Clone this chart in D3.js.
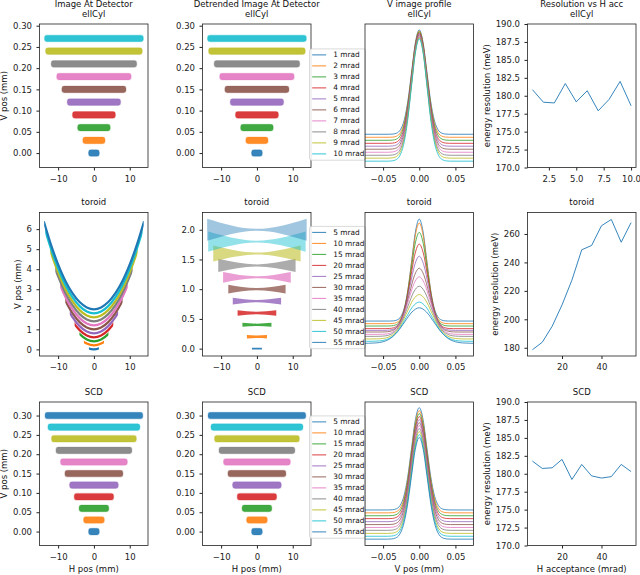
<!DOCTYPE html>
<html>
<head>
<meta charset="utf-8">
<script src="https://cdn.jsdelivr.net/npm/d3@7"></script>
<style>
  body { margin: 0; background: #fff; }
  svg { font-family: 'DejaVu Sans', sans-serif; }
</style>
</head>
<body>
<div id="chart"></div>
<script>
const palette = ['#1f77b4', '#ff7f0e', '#2ca02c', '#d62728', '#9467bd', '#8c564b', '#e377c2', '#7f7f7f', '#bcbd22', '#17becf'];

// ---- ellCyl ----
const ellCylAcc = [1, 2, 3, 4, 5, 6, 7, 8, 9, 10];
const ellCylV = [0, 0.03, 0.06, 0.09, 0.12, 0.15, 0.18, 0.21, 0.24, 0.27];
const ellCylHalfWidth = [1.5, 3.1, 4.55, 6.0, 7.45, 8.95, 10.4, 11.95, 13.5, 13.8];
const ellCylProfileBase = [0.205, 0.182, 0.159, 0.136, 0.114, 0.091, 0.068, 0.045, 0.023, 0];
const ellCylProfilePeak = [1, 0.992, 0.985, 0.977, 0.97, 0.962, 0.955, 0.947, 0.939, 0.932];
const ellCylProfileSigma = [0.0104, 0.0104, 0.0105, 0.0105, 0.0106, 0.0106, 0.0107, 0.0107, 0.0108, 0.0108];
const ellCylResolution = [180.85, 179.1, 179.0, 181.7, 179.15, 180.7, 177.9, 179.5, 182.0, 178.6];

// ---- toroid ----
const toroidAcc = [5, 10, 15, 20, 25, 30, 35, 40, 45, 50, 55];
const toroidV = [0, 0.2, 0.4, 0.6, 0.8, 1.0, 1.2, 1.4, 1.6, 1.8, 2.0];
const toroidHalfWidth = [1.4, 2.8, 4.05, 5.4, 6.75, 8.0, 9.45, 10.8, 12.2, 13.6, 13.9];
const toroidEdgeSpread = [0.014, 0.028, 0.034, 0.045, 0.056, 0.073, 0.09, 0.11, 0.135, 0.17, 0.185];
const toroidCenterSpread = [0.014, 0.022, 0.02, 0.02, 0.018, 0.018, 0.018, 0.017, 0.016, 0.016, 0.015];
// V offset of the raw toroid image (the trend removed by detrending), read along H
const toroidTrendH = [-14, -12, -10, -8, -6, -4, -2, 0, 2, 4, 6, 8, 10, 12, 14];
const toroidTrendV = [4.39, 3.23, 2.24, 1.43, 0.81, 0.36, 0.09, 0, 0.09, 0.36, 0.81, 1.43, 2.24, 3.23, 4.39];
const toroidProfileBase = [0.179, 0.158, 0.139, 0.118, 0.104, 0.091, 0.072, 0.056, 0.035, 0.016, 0];
const toroidProfilePeak = [1, 0.968, 0.893, 0.799, 0.701, 0.604, 0.535, 0.46, 0.393, 0.332, 0.286];
const toroidProfileSigma = [0.0102, 0.0105, 0.011, 0.0118, 0.0126, 0.0135, 0.0145, 0.0155, 0.0168, 0.0182, 0.02];
const toroidResolution = [178.6, 183.9, 195.1, 210.1, 227.5, 248.9, 251.9, 265.8, 270.2, 254.2, 268.0];

// ---- SCD ----
const scdAcc = [5, 10, 15, 20, 25, 30, 35, 40, 45, 50, 55];
const scdV = [0, 0.03, 0.06, 0.09, 0.12, 0.15, 0.18, 0.21, 0.24, 0.27, 0.30];
const scdHalfWidth = [1.5, 2.9, 4.15, 5.5, 6.8, 8.1, 9.35, 10.6, 11.85, 12.85, 13.65];
const scdProfileBase = [0.222, 0.2, 0.178, 0.156, 0.133, 0.111, 0.089, 0.067, 0.044, 0.022, 0];
const scdProfilePeak = [1, 0.977, 0.955, 0.932, 0.909, 0.886, 0.864, 0.841, 0.818, 0.795, 0.773];
const scdProfileSigma = [0.0106, 0.0106, 0.0107, 0.0107, 0.0108, 0.0108, 0.0108, 0.0109, 0.0109, 0.011, 0.011];
const scdResolution = [181.76, 180.74, 180.83, 182.0, 179.2, 181.3, 179.7, 179.4, 179.6, 181.3, 180.3];

// normalised beam profile (in units of sigma), shared by the V profile panels
const profileShapeU = [-10, -4, -3.5, -3, -2.5, -2, -1.5, -1, -0.5, 0, 0.5, 1, 1.5, 2, 2.5, 3, 3.5, 4, 10];
const profileShapeV = [0, 0.0003, 0.0022, 0.0111, 0.0439, 0.1353, 0.3247, 0.6065, 0.8825, 1, 0.8825, 0.6065, 0.3247, 0.1353, 0.0439, 0.0111, 0.0022, 0.0003, 0];

// ---- ticks ----
const hPosTicks = [-10, 0, 10];
const vProfileTicks = [-0.05, 0, 0.05];
const smallVTicks = [0, 0.05, 0.1, 0.15, 0.2, 0.25, 0.3];
const toroidRawTicks = [0, 1, 2, 3, 4, 5, 6];
const toroidDetrendTicks = [0, 0.5, 1, 1.5, 2];
const ellCylAccTicks = [2.5, 5, 7.5, 10];
const mradTicks = [20, 40];
const resTicks = [170, 172.5, 175, 177.5, 180, 182.5, 185, 187.5, 190];
const toroidResTicks = [180, 200, 220, 240, 260];

const COLS = [39.5, 202.5, 365, 527.5];
const ROWS = [24, 212.5, 402];
const PW = 108.5;
const PH = 143.5;
const FONT = 8.5;

const svg = d3.select('#chart').append('svg').attr('width', 640).attr('height', 575);

let clipCount = 0;
const makeClip = (x, y, w, h) => {
  const id = `clip-${clipCount++}`;
  svg.append('clipPath').attr('id', id)
    .append('rect').attr('x', x).attr('y', y).attr('width', w).attr('height', h);
  return `url(#${id})`;
};

const makePanel = (row, col, xDomain, yDomain) => {
  const left = COLS[col];
  const top = ROWS[row];
  const x = d3.scaleLinear().domain(xDomain).range([left, left + PW]);
  const y = d3.scaleLinear().domain(yDomain).range([top + PH, top]);
  const plot = svg.append('g').attr('clip-path', makeClip(left, top, PW, PH));
  return { x, y, plot, left, top };
};

const drawFrame = (p, xTicks, xFmt, yTicks, yFmt) => {
  const gx = svg.append('g')
    .attr('transform', `translate(0,${p.top + PH})`)
    .call(d3.axisBottom(p.x).tickValues(xTicks).tickFormat(d3.format(xFmt)).tickSize(3).tickPadding(5));
  gx.select('.domain').remove();
  let labelLeft = p.left;
  if (yTicks) {
    const gy = svg.append('g')
      .attr('transform', `translate(${p.left},0)`)
      .call(d3.axisLeft(p.y).tickValues(yTicks).tickFormat(d3.format(yFmt)).tickSize(3).tickPadding(4.5));
    gy.select('.domain').remove();
    gy.attr('font-size', FONT).attr('font-family', null).attr('color', '#222');
    const widest = d3.max(gy.selectAll('text').nodes(), (n) => n.getComputedTextLength());
    labelLeft = p.left - 7.5 - widest;
  }
  gx.attr('font-size', FONT).attr('font-family', null).attr('color', '#222');
  svg.append('rect')
    .attr('x', p.left).attr('y', p.top).attr('width', PW).attr('height', PH)
    .attr('fill', 'none').attr('stroke', '#222').attr('stroke-width', 0.8);
  return labelLeft;
};

const drawTitle = (p, lines) => {
  lines.forEach((line, i) => {
    svg.append('text')
      .attr('x', p.left + PW / 2)
      .attr('y', p.top - 7.5 - (lines.length - 1 - i) * 9.8)
      .attr('text-anchor', 'middle')
      .attr('font-size', FONT)
      .attr('fill', '#111')
      .text(line);
  });
};

const drawYLabel = (p, labelLeft, label) => {
  svg.append('text')
    .attr('transform', `translate(${labelLeft - 6},${p.top + PH / 2}) rotate(-90)`)
    .attr('text-anchor', 'middle')
    .attr('font-size', FONT)
    .attr('fill', '#111')
    .text(label);
};

const drawXLabel = (p, label) => {
  svg.append('text')
    .attr('x', p.left + PW / 2)
    .attr('y', p.top + PH + 26.5)
    .attr('text-anchor', 'middle')
    .attr('font-size', FONT)
    .attr('fill', '#111')
    .text(label);
};

// flat beam image: one rounded band per acceptance
const drawBands = (p, vs, halfWidths) => {
  p.plot.selectAll('rect.band')
    .data(vs)
    .join('rect')
    .attr('class', 'band')
    .attr('x', (_, i) => p.x(-halfWidths[i]))
    .attr('width', (_, i) => p.x(halfWidths[i]) - p.x(-halfWidths[i]))
    .attr('y', (v) => p.y(v) - 3.3)
    .attr('height', 6.6)
    .attr('rx', 2.4)
    .attr('fill', (_, i) => palette[i % 10])
    .attr('fill-opacity', 0.9)
    .attr('stroke', (_, i) => palette[i % 10])
    .attr('stroke-opacity', 0.25)
    .attr('stroke-width', 1.2);
};

const drawProfiles = (p, base, peak, sigma) => {
  const line = d3.line().x((d) => p.x(d[0])).y((d) => p.y(d[1])).curve(d3.curveMonotoneX);
  p.plot.selectAll('path.profile')
    .data(base)
    .join('path')
    .attr('class', 'profile')
    .attr('fill', 'none')
    .attr('stroke', (_, i) => palette[i % 10])
    .attr('stroke-width', 0.8)
    .attr('d', (b, i) => line(profileShapeU.map((u, k) => [u * sigma[i], b + (peak[i] - b) * profileShapeV[k]])));
};

const drawResolution = (p, acc, res) => {
  p.plot.append('path')
    .datum(res)
    .attr('fill', 'none')
    .attr('stroke', '#1f77b4')
    .attr('stroke-width', 0.9)
    .attr('d', d3.line().x((_, i) => p.x(acc[i])).y((d) => p.y(d)));
};

const drawLegend = (p, acc) => {
  const step = 11;
  const boxH = (acc.length - 1) * step + 12.3;
  const bottom = p.top + PH - 7.3;
  const top = bottom - boxH;
  const left = p.left + PW - 1.5;
  const g = svg.append('g');
  g.append('rect')
    .attr('x', left).attr('y', top).attr('width', 56).attr('height', boxH)
    .attr('rx', 2).attr('fill', '#fff').attr('fill-opacity', 0.85)
    .attr('stroke', '#d0d0d0').attr('stroke-width', 0.8);
  const rows = g.selectAll('g').data(acc).join('g')
    .attr('transform', (_, i) => `translate(${left},${top + 6 + i * step})`);
  rows.append('line')
    .attr('x1', 2.7).attr('x2', 16.7)
    .attr('stroke', (_, i) => palette[i % 10]).attr('stroke-width', 0.9);
  rows.append('text')
    .attr('x', 23.7).attr('dy', '0.35em')
    .attr('font-size', 7.4)
    .attr('fill', '#111')
    .text((d) => `${d} mrad`);
};

// ---------- row 1 : ellCyl ----------
const hDomain = [-15.2, 15.1];
const profileXDomain = [-0.075, 0.075];

let p = makePanel(0, 0, hDomain, [-0.034, 0.304]);
drawBands(p, ellCylV, ellCylHalfWidth);
drawYLabel(p, drawFrame(p, hPosTicks, 'd', smallVTicks, '.2f'), 'V pos (mm)');
drawTitle(p, ['Image At Detector', 'ellCyl']);

p = makePanel(0, 1, hDomain, [-0.034, 0.304]);
drawBands(p, ellCylV, ellCylHalfWidth);
drawFrame(p, hPosTicks, 'd', smallVTicks, '.2f');
drawTitle(p, ['Detrended Image At Detector', 'ellCyl']);
drawLegend(p, ellCylAcc);

p = makePanel(0, 2, profileXDomain, [-0.048, 1.045]);
drawProfiles(p, ellCylProfileBase, ellCylProfilePeak, ellCylProfileSigma);
drawFrame(p, vProfileTicks, '.2f', null, null);
drawTitle(p, ['V image profile', 'ellCyl']);

p = makePanel(0, 3, [0.55, 10.45], [170, 190]);
drawResolution(p, ellCylAcc, ellCylResolution);
drawYLabel(p, drawFrame(p, ellCylAccTicks, '.1f', resTicks, '.1f'), 'energy resolution (meV)');
drawTitle(p, ['Resolution vs H acc', 'ellCyl']);

// ---------- row 2 : toroid ----------
p = makePanel(1, 0, hDomain, [-0.33, 6.83]);
{
  const panel = p;
  const trendLine = d3.line().x((d) => panel.x(d[0])).y((d) => panel.y(d[1])).curve(d3.curveCatmullRom);
  toroidV.forEach((v0, i) => {
    const hw = toroidHalfWidth[i];
    panel.plot.append('path')
      .attr('clip-path', makeClip(panel.x(-hw), panel.top, panel.x(hw) - panel.x(-hw), PH))
      .attr('fill', 'none')
      .attr('stroke', palette[i % 10])
      .attr('stroke-width', 2.2)
      .attr('d', trendLine(toroidTrendH.map((h, k) => [h, v0 + toroidTrendV[k]])));
  });
}
drawYLabel(p, drawFrame(p, hPosTicks, 'd', toroidRawTicks, 'd'), 'V pos (mm)');
drawTitle(p, ['toroid']);

p = makePanel(1, 1, hDomain, [-0.124, 2.29]);
{
  const panel = p;
  const area = d3.area()
    .x((d) => panel.x(d[0])).y0((d) => panel.y(d[1] - d[2])).y1((d) => panel.y(d[1] + d[2]))
    .curve(d3.curveMonotoneX);
  const density = d3.scaleLinear().domain([0.03, 0.185]).range([0.9, 0.42]).clamp(true);
  panel.plot.selectAll('path.tie')
    .data(toroidV)
    .join('path')
    .attr('class', 'tie')
    .attr('fill', (_, i) => palette[i % 10])
    .attr('fill-opacity', (_, i) => density(toroidEdgeSpread[i]))
    .attr('d', (v0, i) => area([
      [-toroidHalfWidth[i], v0, toroidEdgeSpread[i]],
      [0, v0, toroidCenterSpread[i]],
      [toroidHalfWidth[i], v0, toroidEdgeSpread[i]],
    ]));
}
drawFrame(p, hPosTicks, 'd', toroidDetrendTicks, '.1f');
drawTitle(p, ['toroid']);
drawLegend(p, toroidAcc);

p = makePanel(1, 2, profileXDomain, [-0.102, 1.053]);
drawProfiles(p, toroidProfileBase, toroidProfilePeak, toroidProfileSigma);
drawFrame(p, vProfileTicks, '.2f', null, null);
drawTitle(p, ['toroid']);

p = makePanel(1, 3, [2.5, 57.5], [174.2, 275.1]);
drawResolution(p, toroidAcc, toroidResolution);
drawYLabel(p, drawFrame(p, mradTicks, 'd', toroidResTicks, 'd'), 'energy resolution (meV)');
drawTitle(p, ['toroid']);

// ---------- row 3 : SCD ----------
p = makePanel(2, 0, hDomain, [-0.036, 0.335]);
drawBands(p, scdV, scdHalfWidth);
drawYLabel(p, drawFrame(p, hPosTicks, 'd', smallVTicks, '.2f'), 'V pos (mm)');
drawTitle(p, ['SCD']);
drawXLabel(p, 'H pos (mm)');

p = makePanel(2, 1, hDomain, [-0.036, 0.335]);
drawBands(p, scdV, scdHalfWidth);
drawFrame(p, hPosTicks, 'd', smallVTicks, '.2f');
drawTitle(p, ['SCD']);
drawXLabel(p, 'H pos (mm)');
drawLegend(p, scdAcc);

p = makePanel(2, 2, profileXDomain, [-0.048, 1.043]);
drawProfiles(p, scdProfileBase, scdProfilePeak, scdProfileSigma);
drawFrame(p, vProfileTicks, '.2f', null, null);
drawTitle(p, ['SCD']);
drawXLabel(p, 'V pos (mm)');

p = makePanel(2, 3, [2.5, 57.5], [170, 190]);
drawResolution(p, scdAcc, scdResolution);
drawYLabel(p, drawFrame(p, mradTicks, 'd', resTicks, '.1f'), 'energy resolution (meV)');
drawTitle(p, ['SCD']);
drawXLabel(p, 'H acceptance (mrad)');
</script>
</body>
</html>
